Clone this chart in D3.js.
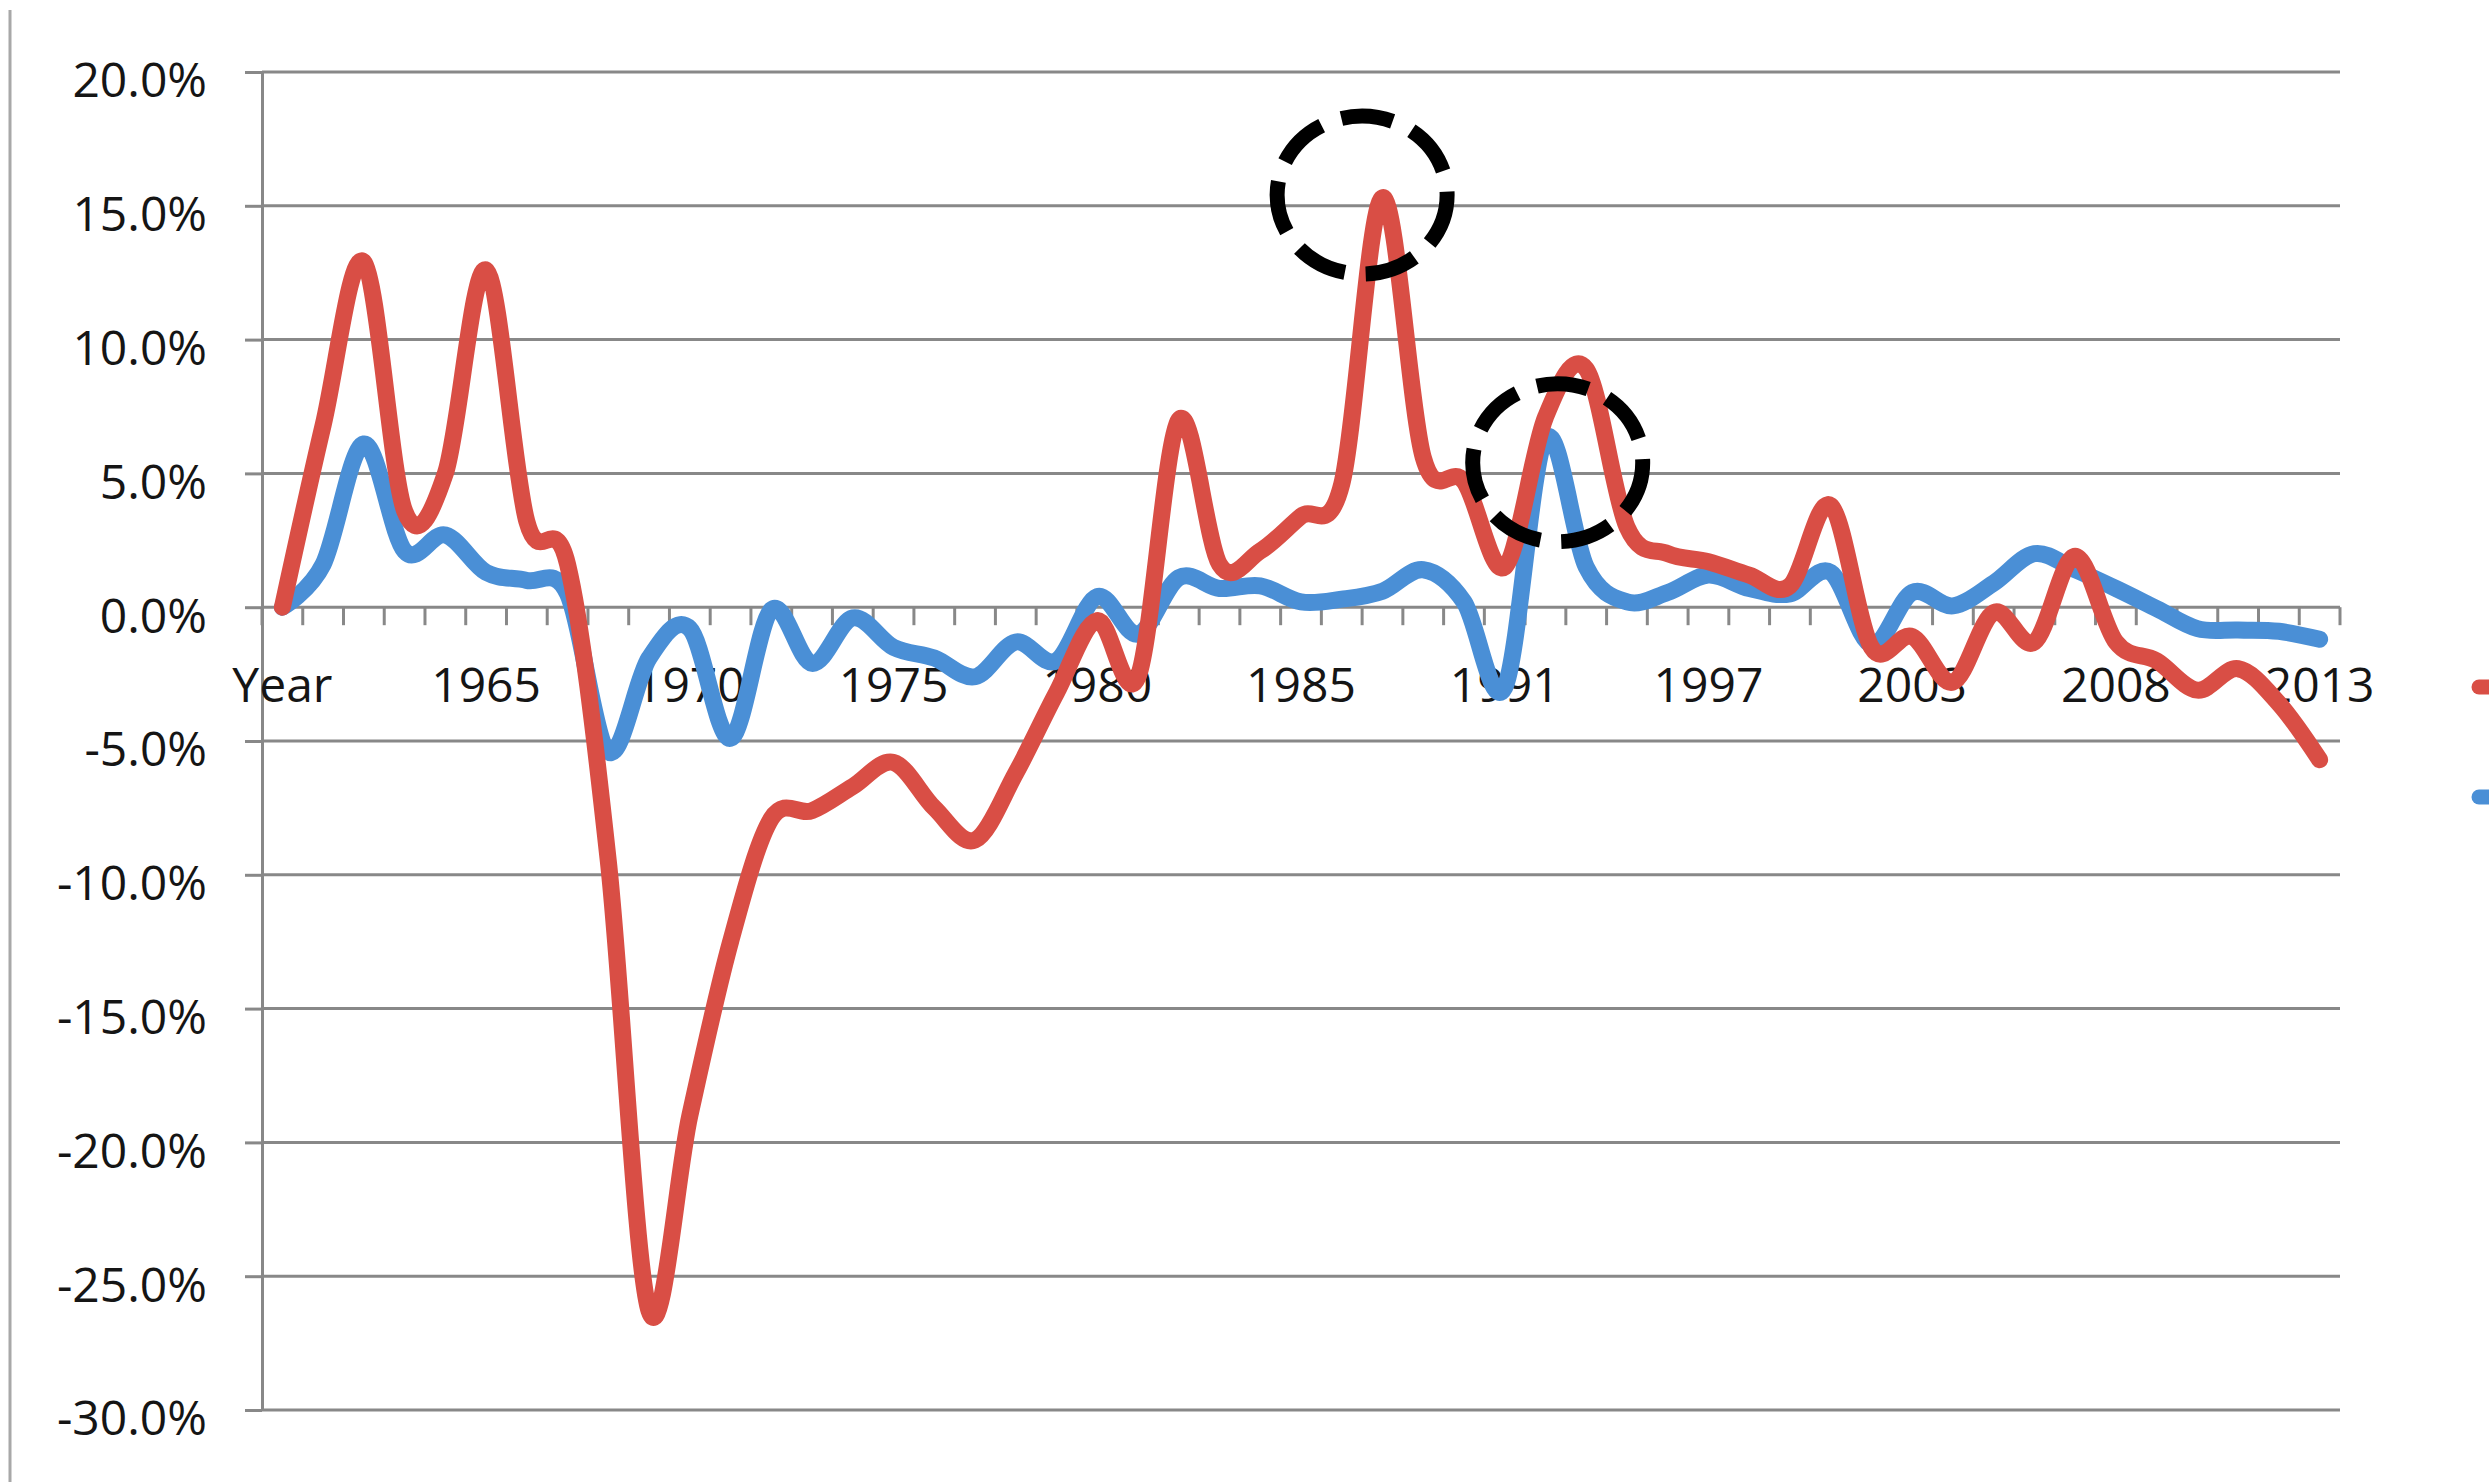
<!DOCTYPE html>
<meta charset="utf-8">
<style>
  body { margin: 0; background: #fff; }
  svg { display: block; background: #fff; }
  .axis text { font-family: "Open Sans", sans-serif; font-size: 48px; fill: #151515; }
  .axis path, .axis line { stroke: #888; stroke-width: 3; }
  .grid line { stroke: #888; stroke-width: 3; }
  .series { fill: none; stroke-width: 17; stroke-linejoin: round; stroke-linecap: round; }
  .ring { fill: none; stroke: #000; stroke-width: 15; stroke-dasharray: 52 21; }
</style>

<svg width="2489" height="1482"></svg>
<script src="https://d3js.org/d3.v7.min.js"></script>

<script>
// Categories (first one is the header cell that Excel plotted as a point)
var categories = ["Year",
  "1961", "1962", "1963", "1964", "1965", "1966", "1967", "1968", "1969", "1970",
  "1971", "1972", "1973", "1974", "1975", "1976", "1977", "1978", "1979", "1980",
  "1981", "1982", "1983", "1984", "1985", "1986", "1987", "1988", "1989", "1991",
  "1992", "1993", "1994", "1995", "1997", "1998", "1999", "2000", "2001", "2003",
  "2004", "2005", "2006", "2007", "2008", "2009", "2010", "2011", "2012", "2013"];

// growth rates in %
var redValues = [0,
  6.8, 12.9, 3.6, 5.0, 12.6, 3.2, 1.6, -9.5, -26.3, -19.0,
  -12.5, -7.9, -7.6, -6.7, -5.8, -7.5, -8.7, -6.2, -3.2, -0.5,
  -2.6, 7.0, 1.6, 2.1, 3.4, 4.6, 15.3, 5.6, 4.7, 1.5,
  7.1, 8.9, 3.0, 2.0, 1.7, 1.2, 0.8, 3.8, -1.5, -1.1,
  -2.8, -0.2, -1.3, 1.9, -1.3, -2.0, -3.1, -2.3, -3.6, -5.7];

var blueValues = [0,
  1.6, 6.1, 2.1, 2.7, 1.3, 1.0, 0.5, -5.4, -1.9, -0.8,
  -4.9, -0.1, -2.1, -0.4, -1.5, -1.9, -2.6, -1.3, -2.0, 0.4,
  -1.0, 1.1, 0.7, 0.8, 0.2, 0.3, 0.6, 1.4, 0.2, -3.0,
  6.3, 1.5, 0.2, 0.55, 1.2, 0.7, 0.5, 1.3, -1.4, 0.55,
  0.05, 0.9, 2.0, 1.4, 0.7, -0.05, -0.8, -0.85, -0.9, -1.2];

var yTicks = [-30, -25, -20, -15, -10, -5, 0, 5, 10, 15, 20];
var labelEvery = 5;

// dashed circles drawn on the chart (category position, value)
var rings = [{ at: 26.5, value: 15.4 }, { at: 31.3, value: 5.4 }];

var seriesColors = ["#d94e45", "#4a8fd6"];

var svg = d3.select("svg");

var x = d3.scaleBand()
    .domain(categories)
    .range([262, 2340])
    .padding(0);
var xc = function (c) { return x(c) + x.bandwidth() / 2; };
var y = d3.scaleLinear()
    .domain([-30, 20])
    .range([1410, 72]);

// grey rule on the far left of the slide
svg.append("line")
    .attr("x1", 10).attr("x2", 10)
    .attr("y1", 10).attr("y2", 1482)
    .attr("stroke", "#a8a8a8")
    .attr("stroke-width", 3);

// Gridlines
svg.append("g")
    .attr("class", "grid")
    .selectAll("line")
    .data(yTicks)
    .enter().append("line")
    .attr("x1", x.range()[0])
    .attr("x2", x.range()[1])
    .attr("y1", function (d) { return y(d); })
    .attr("y2", function (d) { return y(d); });

// Y axis
var yAxis = svg.append("g")
    .attr("class", "axis")
    .attr("transform", "translate(" + x.range()[0] + ",0)")
    .call(d3.axisLeft(y)
        .tickValues(yTicks)
        .tickSize(17)
        .tickSizeOuter(0)
        .tickPadding(38)
        .tickFormat(function (d) { return d.toFixed(1) + "%"; }));
yAxis.selectAll("text").attr("dy", "0.52em");

// X axis tick marks between categories
var bounds = categories.map(function (c) { return x(c); }).concat([x.range()[1]]);
svg.append("g")
    .attr("class", "axis")
    .selectAll("line")
    .data(bounds)
    .enter().append("line")
    .attr("x1", function (d) { return d; })
    .attr("x2", function (d) { return d; })
    .attr("y1", y(0))
    .attr("y2", y(0) + 18);

// X axis labels
var xAxis = svg.append("g")
    .attr("class", "axis")
    .attr("transform", "translate(0," + y(0) + ")")
    .call(d3.axisBottom(x)
        .tickValues(categories.filter(function (c, i) { return i % labelEvery === 0; }))
        .tickSize(0)
        .tickPadding(61));
xAxis.select(".domain").remove();

// Lines
var line = d3.line()
    .x(function (d, i) { return xc(categories[i]); })
    .y(function (d) { return y(d); })
    .curve(d3.curveCardinal);

svg.append("path")
    .datum(blueValues)
    .attr("class", "series")
    .attr("stroke", seriesColors[1])
    .attr("d", line);

svg.append("path")
    .datum(redValues)
    .attr("class", "series")
    .attr("stroke", seriesColors[0])
    .attr("d", line);

// Dashed rings
svg.append("g")
    .selectAll("ellipse")
    .data(rings)
    .enter().append("ellipse")
    .attr("class", "ring")
    .attr("cx", function (d) { return x.range()[0] + (d.at + 0.5) * x.step(); })
    .attr("cy", function (d) { return y(d.value); })
    .attr("rx", 85)
    .attr("ry", 79);

// Legend (cut off by the right edge)
var legend = svg.append("g")
    .attr("transform", "translate(2479,687)");
legend.selectAll("line")
    .data(seriesColors)
    .enter().append("line")
    .attr("x1", 0).attr("x2", 60)
    .attr("y1", function (d, i) { return i * 110; })
    .attr("y2", function (d, i) { return i * 110; })
    .attr("stroke", function (d) { return d; })
    .attr("stroke-width", 15)
    .attr("stroke-linecap", "round");
</script>
